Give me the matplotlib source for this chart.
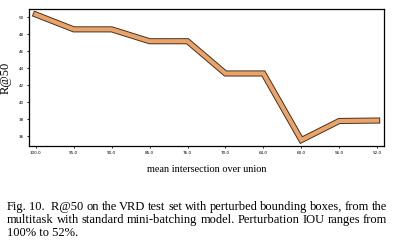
import matplotlib
matplotlib.use("Agg")
import matplotlib.pyplot as plt
import matplotlib.patheffects as pe

x_labels = ["100.0", "95.0", "90.0", "85.0", "76.0", "70.0", "64.0", "60.0", "56.0", "52.0"]
r_at_50 = [50.35, 48.6, 48.6, 47.2, 47.2, 43.4, 43.4, 35.55, 37.8, 37.85]
y_ticks = [36, 38, 40, 42, 44, 46, 48, 50]

fig = plt.figure(figsize=(3.93, 2.45), dpi=100)
ax = fig.add_axes([29/393, 1 - 146/245, (384-29)/393, (146-9)/245])

xs = list(range(len(x_labels)))
ax.plot(xs, r_at_50, color="#e8a46a", linewidth=3.0, solid_joinstyle="miter",
        path_effects=[pe.Stroke(linewidth=4.4, foreground="#4a3020"), pe.Normal()])

ax.set_xlim(-0.18, len(x_labels) - 1 + 0.18)
ax.set_ylim(34.85, 51.0)
ax.set_xticks(xs)
ax.set_xticklabels(x_labels)
ax.set_yticks(y_ticks)
ax.tick_params(axis="both", labelsize=3, length=1.5, width=0.6, pad=2)
for s in ax.spines.values():
    s.set_linewidth(0.9)

serif = ["Liberation Serif", "DejaVu Serif"]
ax.set_ylabel("R@50", fontsize=9, family=serif, labelpad=5)
fig.text(207/393, 1 - 170/245, "mean intersection over union", ha="center", va="center",
         fontsize=7.4, family=serif)

cap = ["Fig. 10.  R@50 on the VRD test set with perturbed bounding boxes, from the",
       "multitask with standard mini-batching model. Perturbation IOU ranges from",
       "100% to 52%."]
ys = [207, 220, 233]
justify = [True, True, False]
x0, x1 = 7, 387
fs = 9.0
canvas = fig.canvas
renderer = canvas.get_renderer()
for line, yy, jus in zip(cap, ys, justify):
    yf = 1 - yy/245
    if not jus:
        fig.text(x0/393, yf, line, ha="left", va="center", fontsize=fs, family=serif)
        continue
    words = line.replace("10.  ", "10.\u00a0\u00a0").split(" ")
    words = [w.replace("\u00a0", " ") for w in words]
    texts = [fig.text(0, yf, w, ha="left", va="center", fontsize=fs, family=serif) for w in words]
    widths = [t.get_window_extent(renderer).width for t in texts]
    gap = ((x1 - x0) - sum(widths)) / (len(words) - 1)
    cx = x0
    for t, w in zip(texts, widths):
        t.set_x(cx/393)
        cx += w + gap

fig.savefig("out.png", dpi=100)
